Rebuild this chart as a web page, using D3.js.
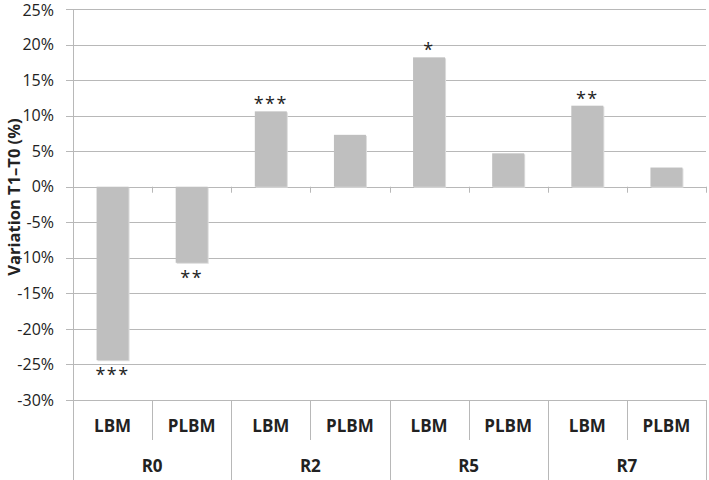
<html>
<head>
<script src="https://d3js.org/d3.v7.min.js"></script>
<style>
body { margin: 0; background: white; }
svg text { font-family: 'Open Sans', 'Liberation Sans', sans-serif; fill: #222; }
</style>
</head>
<body>
<svg width="709" height="480"></svg>
<script>
// data
const groups = ["R0", "R2", "R5", "R7"];
const subs = ["LBM", "PLBM"];
const values = [-24.4, -10.7, 10.6, 7.3, 18.2, 4.7, 11.4, 2.7];
const stars = ["***", "**", "***", "", "*", "", "**", ""];
const yTicks = [25, 20, 15, 10, 5, 0, -5, -10, -15, -20, -25, -30];

const svg = d3.select("svg");
const mLeft = 73, mRight = 706, mTop = 9, mBottom = 400;

const bars = [];
groups.forEach((g, gi) => subs.forEach((s, si) => {
    const i = gi * subs.length + si;
    bars.push({ key: g + "-" + s, group: g, sub: s, value: values[i], star: stars[i] });
}));

const x = d3.scaleBand()
    .domain(bars.map(d => d.key))
    .range([mLeft, mRight]);

const y = d3.scaleLinear()
    .domain([-30, 25])
    .range([mBottom, mTop]);

// gridlines
svg.append("g")
    .selectAll("line")
    .data(yTicks)
    .enter()
    .append("line")
    .attr("x1", mLeft - 7)
    .attr("x2", mRight)
    .attr("y1", d => Math.round(y(d)) + 0.5)
    .attr("y2", d => Math.round(y(d)) + 0.5)
    .attr("stroke", "#b8b8b8")
    .attr("stroke-width", 1);

// y labels
svg.append("g")
    .selectAll("text")
    .data(yTicks)
    .enter()
    .append("text")
    .attr("x", mLeft - 19)
    .attr("y", d => y(d))
    .attr("dy", d => d === 25 ? "0.45em" : "0.35em")
    .attr("text-anchor", "end")
    .style("font-size", "16px")
    .text(d => d + "%");

// left axis line
svg.append("line")
    .attr("x1", mLeft + 0.5).attr("x2", mLeft + 0.5)
    .attr("y1", mTop).attr("y2", 480)
    .attr("stroke", "#b8b8b8");

// bar shadows + bars
const barW = 32;
const g = svg.append("g");
g.selectAll("rect.shadow")
    .data(bars)
    .enter()
    .append("rect")
    .attr("class", "shadow")
    .attr("x", d => x(d.key) + x.bandwidth() / 2 - barW / 2 + 1)
    .attr("y", d => y(Math.max(0, d.value)) + 1)
    .attr("width", barW)
    .attr("height", d => Math.abs(y(d.value) - y(0)))
    .attr("fill", "#dcdcdc");
g.selectAll("rect.bar")
    .data(bars)
    .enter()
    .append("rect")
    .attr("class", "bar")
    .attr("x", d => x(d.key) + x.bandwidth() / 2 - barW / 2)
    .attr("y", d => y(Math.max(0, d.value)))
    .attr("width", barW)
    .attr("height", d => Math.abs(y(d.value) - y(0)))
    .attr("fill", "#bfbfbf");

// ticks on the zero line
const bounds = d3.range(bars.length + 1).map(i => mLeft + i * x.step());
svg.append("g")
    .selectAll("line")
    .data(bounds)
    .enter()
    .append("line")
    .attr("x1", d => Math.round(d) + 0.5)
    .attr("x2", d => Math.round(d) + 0.5)
    .attr("y1", y(0))
    .attr("y2", y(0) + 6)
    .attr("stroke", "#b8b8b8");

// significance stars
svg.append("g")
    .selectAll("text")
    .data(bars.filter(d => d.star))
    .enter()
    .append("text")
    .attr("x", d => x(d.key) + x.bandwidth() / 2)
    .attr("y", d => d.value < 0 ? y(d.value) + 21 : y(d.value) - 1)
    .attr("text-anchor", "middle")
    .style("font-size", "18px")
    .style("letter-spacing", "1.5px")
    .text(d => d.star);

// category dividers
svg.append("g")
    .selectAll("line")
    .data(bounds)
    .enter()
    .append("line")
    .attr("x1", d => Math.round(d) + 0.5)
    .attr("x2", d => Math.round(d) + 0.5)
    .attr("y1", mBottom)
    .attr("y2", (d, i) => i % 2 === 0 ? 480 : 440)
    .attr("stroke", "#b8b8b8");

// sub labels
svg.append("g")
    .selectAll("text")
    .data(bars)
    .enter()
    .append("text")
    .attr("x", d => x(d.key) + x.bandwidth() / 2)
    .attr("y", 426)
    .attr("dy", "0.35em")
    .attr("text-anchor", "middle")
    .style("font-size", "17px")
    .style("font-weight", "bold")
    .text(d => d.sub);

// group labels
svg.append("g")
    .selectAll("text")
    .data(groups)
    .enter()
    .append("text")
    .attr("x", (d, i) => mLeft + (i * 2 + 1) * x.step())
    .attr("y", 466)
    .attr("dy", "0.35em")
    .attr("text-anchor", "middle")
    .style("font-size", "17px")
    .style("font-weight", "bold")
    .text(d => d);

// y axis title
svg.append("text")
    .attr("transform", "translate(20,197) rotate(-90)")
    .attr("text-anchor", "middle")
    .style("font-size", "16.5px")
    .style("font-weight", "bold")
    .text("Variation T1–T0 (%)");
</script>
</body>
</html>
